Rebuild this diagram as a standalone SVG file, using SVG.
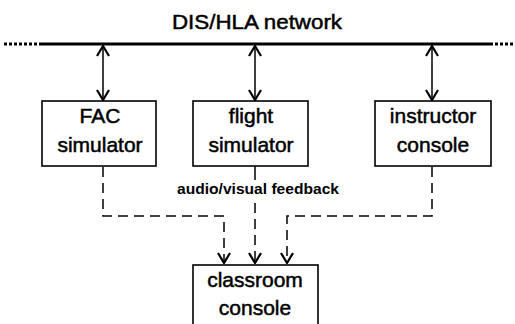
<svg xmlns="http://www.w3.org/2000/svg" width="515" height="324" viewBox="0 0 515 324">
<style>
.box{fill:#fff;stroke:#000;stroke-width:1.6}
.lbl{font-family:"Liberation Sans",Arial,sans-serif;font-size:21px;fill:#000;stroke:#000;stroke-width:0.5;text-anchor:middle}
.net{stroke:#000;stroke-width:3;fill:none}
.dot{stroke:#000;stroke-width:3;fill:none;stroke-dasharray:3 2}
.link{stroke:#000;stroke-width:1.5;fill:none}
.dash{stroke:#000;stroke-width:1.5;fill:none;stroke-dasharray:10 6}
</style>
<defs>
<marker id="v" viewBox="0 0 12 14" refX="11" refY="7" markerWidth="12" markerHeight="14" markerUnits="userSpaceOnUse" orient="auto-start-reverse">
<path d="M1,1 L11,7 L1,13" fill="none" stroke="#000" stroke-width="2.2"/>
</marker>
</defs>
<g id="network">
<text class="lbl" x="257" y="29" textLength="170" lengthAdjust="spacingAndGlyphs">DIS/HLA network</text>
<line class="dot" x1="4" y1="44" x2="40" y2="44"/>
<line class="net" x1="40" y1="44" x2="490" y2="44"/>
<line class="dot" x1="490" y1="44" x2="513" y2="44"/>
</g>
<g id="fac">
<rect class="box" x="42" y="101" width="114" height="65"/>
<text class="lbl" x="100" y="123">FAC</text>
<text class="lbl" x="100" y="152">simulator</text>
</g>
<g id="flight">
<rect class="box" x="193" y="101" width="115" height="65"/>
<text class="lbl" x="251" y="123">flight</text>
<text class="lbl" x="251" y="152">simulator</text>
</g>
<g id="instructor">
<rect class="box" x="375" y="101" width="116" height="65"/>
<text class="lbl" x="433" y="123">instructor</text>
<text class="lbl" x="433" y="152">console</text>
</g>
<g id="classroom">
<rect class="box" x="193" y="265" width="125" height="70"/>
<text class="lbl" x="255" y="287">classroom</text>
<text class="lbl" x="255" y="315">console</text>
</g>
<g id="connectors">
<line class="link" x1="103" y1="46" x2="103" y2="100" marker-start="url(#v)" marker-end="url(#v)"/>
<line class="link" x1="255" y1="46" x2="255" y2="100" marker-start="url(#v)" marker-end="url(#v)"/>
<line class="link" x1="432" y1="46" x2="432" y2="100" marker-start="url(#v)" marker-end="url(#v)"/>
<line class="link" x1="255" y1="166" x2="255" y2="180"/>
<text x="258" y="194" font-family="'Liberation Sans',Arial,sans-serif" font-size="15" font-weight="bold" text-anchor="middle" textLength="162" lengthAdjust="spacingAndGlyphs">audio/visual feedback</text>
<path class="dash" d="M103,167 V216 H224 V263" marker-end="url(#v)"/>
<path class="dash" d="M255,203 V263" marker-end="url(#v)"/>
<path class="dash" d="M432,167 V216 H287 V263" marker-end="url(#v)"/>
</g>
</svg>
